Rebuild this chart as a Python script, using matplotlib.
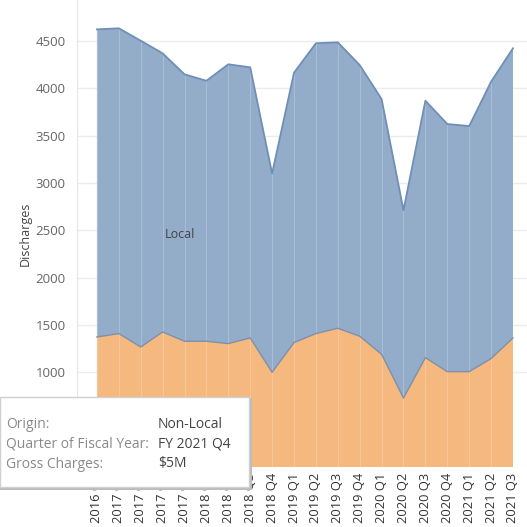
import matplotlib.pyplot as plt
from matplotlib.patches import Rectangle

plt.rcParams['font.family'] = ['Open Sans', 'DejaVu Sans']

quarters = ["2016 Q4", "2017 Q1", "2017 Q2", "2017 Q3", "2017 Q4",
            "2018 Q1", "2018 Q2", "2018 Q3", "2018 Q4",
            "2019 Q1", "2019 Q2", "2019 Q3", "2019 Q4",
            "2020 Q1", "2020 Q2", "2020 Q3", "2020 Q4",
            "2021 Q1", "2021 Q2", "2021 Q3"]
non_local = [1373, 1409, 1267, 1426, 1328, 1328, 1303, 1363, 1000,
             1314, 1409, 1465, 1381, 1190, 728, 1155, 1007, 1007, 1145, 1363]
total = [4622, 4633, 4502, 4369, 4147, 4079, 4253, 4221, 3100,
         4164, 4475, 4485, 4245, 3886, 2712, 3868, 3622, 3601, 4069, 4422]
local = [t - n for t, n in zip(total, non_local)]

x = list(range(len(quarters)))

fig = plt.figure(figsize=(5.27, 5.27), dpi=100)
ax = fig.add_axes([77 / 527, 60 / 527, 450 / 527, 467 / 527])

orange = "#f5b97f"
blue = "#92acc9"
ax.stackplot(x, non_local, local, colors=[orange, blue], linewidth=0, zorder=2)
ax.plot(x, non_local, color="#7f90a8", lw=1.0, zorder=3)
ax.plot(x, total, color="#6f8fb8", lw=1.3, zorder=3)

# faint vertical lines at each quarter inside the areas
for i, t in enumerate(total):
    ax.plot([i, i], [0, t], color="white", lw=0.6, alpha=0.25, zorder=2.5)

ax.set_xlim(-0.91, 19.64)
ax.set_ylim(0, 4932)
ax.set_yticks([1000, 1500, 2000, 2500, 3000, 3500, 4000, 4500])
ax.set_xticks(x)
ax.set_xticklabels(quarters, rotation=90, fontsize=9.3, color="#333333")
ax.tick_params(axis="x", length=0, pad=4)
ax.tick_params(axis="y", length=0, labelsize=9.5, labelcolor="#666666", pad=8)
ax.grid(axis="y", color="#ececec", lw=1, zorder=0)
for s in ["top", "right", "bottom"]:
    ax.spines[s].set_visible(False)
ax.spines["left"].set_color("#e6e6e6")
ax.set_ylabel("Discharges", fontsize=9, color="#444444", labelpad=3)

ax.text(3.8, 2460, "Local", fontsize=9, color="#444444",
        ha="center", va="center", zorder=4)

# tooltip box
shadow = Rectangle((0, 37 / 527), 252 / 527, 92 / 527, transform=fig.transFigure,
                   facecolor="#bbbbbb", edgecolor="none", zorder=9)
fig.add_artist(shadow)
box = Rectangle((0, 40 / 527), 249 / 527, 90 / 527, transform=fig.transFigure,
                facecolor="white", edgecolor="#d0d0d0", lw=1, zorder=10)
fig.add_artist(box)
rows = [("Origin:", "Non-Local"),
        ("Quarter of Fiscal Year:", "FY 2021 Q4"),
        ("Gross Charges:", "$5M")]
for k, (lab, val) in enumerate(rows):
    yy = (527 - 424 - k * 20) / 527
    fig.text(6 / 527, yy, lab, fontsize=10, color="#8a8a8a", va="center", zorder=11)
    fig.text(158 / 527, yy, val, fontsize=10, color="#444444", va="center", zorder=11)

plt.savefig("out.png", dpi=100)
